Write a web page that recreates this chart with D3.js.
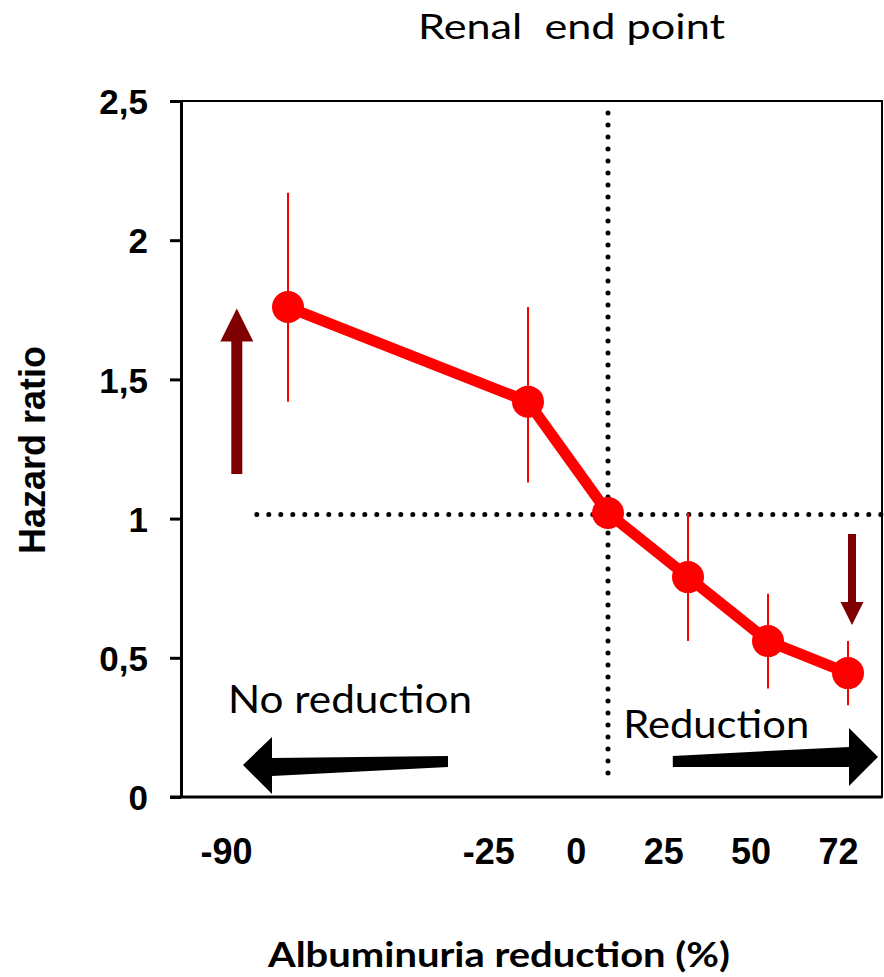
<!DOCTYPE html>
<html>
<head>
<meta charset="utf-8">
<script src="https://cdn.jsdelivr.net/npm/d3@7"></script>
<style>
  body { margin: 0; background: #fff; }
  svg { display: block; }
</style>
</head>
<body>
<div id="chart"></div>
<script>
/* Data */
let slots = [0, 3, 4, 5, 6, 7];              // horizontal slot of each point
let xLabels = ["-90", "-25", "0", "25", "50", "72"];
let hazard = [1.76, 1.42, 1.02, 0.79, 0.56, 0.445];
let ciLow = [1.42, 1.13, null, 0.56, 0.39, 0.33];
let ciHigh = [2.17, 1.76, null, 1.02, 0.73, 0.56];
let yTicks = [0, 0.5, 1, 1.5, 2, 2.5];

/* Reference lines (slot / hazard units) */
let refHR = 1.015;
let refSlot = 4;

/* Dimensions */
let width = 884;
let height = 977;
let margin = {top: 101, left: 181, right: 2, bottom: 180};
let pWidth = width - margin.left - margin.right;
let pHeight = height - margin.top - margin.bottom;

let svg = d3.select("#chart")
            .append("svg")
              .attr("width", width)
              .attr("height", height);

let g = svg.append("g")
           .attr("transform", `translate(${margin.left}, ${margin.top})`);

let xScale = d3.scaleLinear()
               .domain([-1.3375, 7.425])
               .range([0, pWidth]);

// tick labels sit on their own, slightly wider spacing
let xLabelScale = d3.scaleLinear()
                    .domain([0, 7])
                    .range([45, 657]);

let yScale = d3.scaleLinear()
               .domain([0, 2.5])
               .range([pHeight, 0]);

let comma = d3.formatLocale({decimal: ",", thousands: ".", grouping: [3], currency: ["", ""]});
let fmt = comma.format("~g");

// frame
g.append("rect")
  .attr("x", 0).attr("y", 0)
  .attr("width", pWidth).attr("height", pHeight)
  .attr("fill", "none")
  .attr("stroke", "#000")
  .attr("stroke-width", 2);

// y axis
let yAxis = g.append("g")
  .call(d3.axisLeft(yScale).tickValues(yTicks).tickFormat(fmt).tickSize(11).tickSizeOuter(0));
yAxis.select(".domain").attr("stroke-width", 3);
yAxis.selectAll(".tick line").attr("stroke-width", 3);
yAxis.selectAll(".tick text")
  .attr("x", -33)
  .attr("dy", "0.36em")
  .attr("font-family", "'Liberation Sans', Arial, sans-serif")
  .attr("font-weight", "bold")
  .attr("font-size", 35)
  .attr("fill", "#000");

// bottom axis line
g.append("line")
  .attr("x1", -11).attr("x2", pWidth)
  .attr("y1", pHeight).attr("y2", pHeight)
  .attr("stroke", "#000")
  .attr("stroke-width", 3);

// x tick labels
let xAxis = g.append("g")
  .attr("transform", `translate(0, ${pHeight})`)
  .call(d3.axisBottom(xLabelScale).tickValues(slots).tickFormat((d, i) => xLabels[i]).tickSize(0));
xAxis.select(".domain").remove();
xAxis.selectAll(".tick text")
  .attr("y", 67)
  .attr("dy", 0)
  .attr("font-family", "'Liberation Sans', Arial, sans-serif")
  .attr("font-weight", "bold")
  .attr("font-size", 36)
  .attr("fill", "#000");

// dotted reference lines
g.append("line")
  .attr("x1", xScale(-0.39)).attr("x2", pWidth)
  .attr("y1", yScale(refHR)).attr("y2", yScale(refHR))
  .attr("stroke", "#000")
  .attr("stroke-width", 5)
  .attr("stroke-linecap", "round")
  .attr("stroke-dasharray", "0 12");

g.append("line")
  .attr("x1", xScale(refSlot)).attr("x2", xScale(refSlot))
  .attr("y1", yScale(2.457)).attr("y2", yScale(0.079))
  .attr("stroke", "#000")
  .attr("stroke-width", 5)
  .attr("stroke-linecap", "round")
  .attr("stroke-dasharray", "0 12");

// error bars
let points = slots.map((s, i) => ({s: s, hr: hazard[i], lo: ciLow[i], hi: ciHigh[i]}));

g.selectAll(".ci")
  .data(points.filter(d => d.lo !== null))
  .enter()
  .append("line")
    .attr("class", "ci")
    .attr("x1", d => xScale(d.s)).attr("x2", d => xScale(d.s))
    .attr("y1", d => yScale(d.lo)).attr("y2", d => yScale(d.hi))
    .attr("stroke", "#ff0000")
    .attr("stroke-width", 2);

// line + markers
let line = d3.line()
             .x(d => xScale(d.s))
             .y(d => yScale(d.hr));

g.append("path")
  .datum(points)
  .attr("d", line)
  .attr("fill", "none")
  .attr("stroke", "#ff0000")
  .attr("stroke-width", 11)
  .attr("stroke-linejoin", "round");

g.selectAll(".pt")
  .data(points)
  .enter()
  .append("circle")
    .attr("class", "pt")
    .attr("cx", d => xScale(d.s))
    .attr("cy", d => yScale(d.hr))
    .attr("r", 16)
    .attr("fill", "#ff0000");

// dark red vertical arrows
function vArrow(slot, from, to, shaftHalf, headHalf, headLen) {
  let x = xScale(slot), y0 = yScale(from), y1 = yScale(to);
  let dir = y1 < y0 ? 1 : -1;
  let yb = y1 + dir * headLen;
  let pts = [[x - shaftHalf, y0], [x - shaftHalf, yb], [x - headHalf, yb], [x, y1],
             [x + headHalf, yb], [x + shaftHalf, yb], [x + shaftHalf, y0]];
  g.append("polygon")
    .attr("points", pts.map(p => p.join(",")).join(" "))
    .attr("fill", "#7f0000");
}
vArrow(-0.64, 1.16, 1.755, 5.5, 16.5, 33);
vArrow(7.05, 0.945, 0.618, 4, 11.5, 23);

// black horizontal arrows
function hArrow(tail, tip, hr, dir, rel) {
  let xt = xScale(tip), yt = yScale(hr), xa = xScale(tail);
  let pts = rel.map(p => [p[0] === "tail" ? xa : xt + dir * p[0], yt + p[1]]);
  g.append("polygon")
    .attr("points", pts.map(p => p.join(",")).join(" "))
    .attr("fill", "#000");
}
hArrow(2.0, -0.5625, 0.115, 1,
  [[0, 0], [29, -28], [29, -7], ["tail", -9], ["tail", 2], [29, 11], [29, 29]]);
hArrow(4.81, 7.375, 0.144, -1,
  [[0, 0], [29, -29], [29, -10], ["tail", -1], ["tail", 10], [29, 10], [29, 29]]);

// annotation texts
g.append("text")
  .attr("x", xScale(-0.75)).attr("y", yScale(0.302))
  .attr("font-family", "Lato, sans-serif")
  .attr("font-size", 39)
  .attr("textLength", 244)
  .attr("lengthAdjust", "spacingAndGlyphs")
  .text("No reduction");

g.append("text")
  .attr("x", xScale(4.19)).attr("y", yScale(0.212))
  .attr("font-family", "Lato, sans-serif")
  .attr("font-size", 39)
  .attr("textLength", 186)
  .attr("lengthAdjust", "spacingAndGlyphs")
  .text("Reduction");

// titles
svg.append("text")
  .attr("x", 418).attr("y", 39)
  .attr("font-family", "Lato, sans-serif")
  .attr("font-size", 35)
  .attr("textLength", 307)
  .attr("lengthAdjust", "spacingAndGlyphs")
  .style("white-space", "pre")
  .text("Renal  end point");

svg.append("text")
  .attr("x", 268).attr("y", 967)
  .attr("font-family", "Lato, sans-serif")
  .attr("font-weight", "bold")
  .attr("font-size", 34)
  .attr("textLength", 462)
  .attr("lengthAdjust", "spacingAndGlyphs")
  .text("Albuminuria reduction (%)");

svg.append("text")
  .attr("transform", "translate(45, 450) rotate(-90)")
  .attr("text-anchor", "middle")
  .attr("font-family", "'Liberation Sans', Arial, sans-serif")
  .attr("font-weight", "bold")
  .attr("font-size", 36)
  .text("Hazard ratio");
</script>
</body>
</html>
